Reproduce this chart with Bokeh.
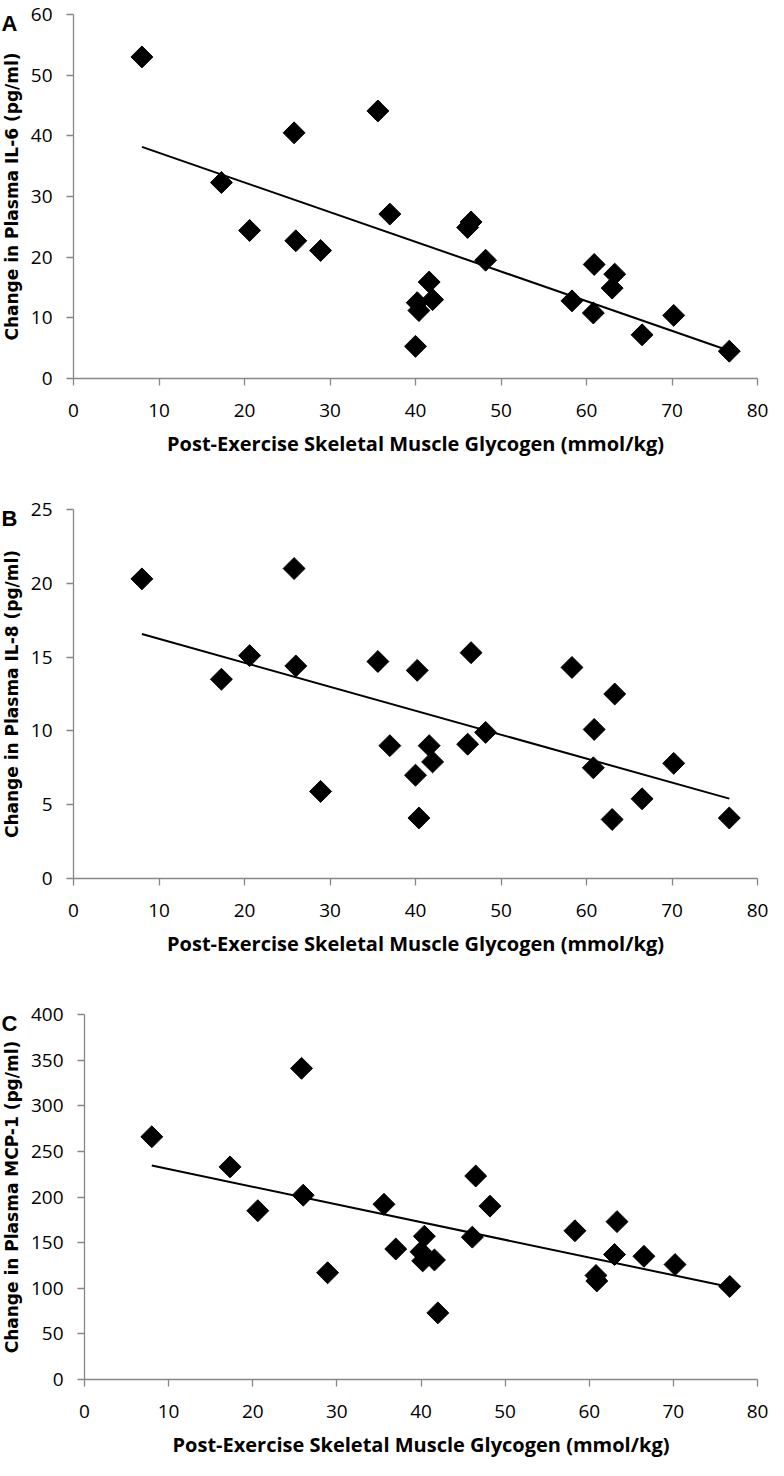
import math
import numpy as np
from bokeh.plotting import figure
from bokeh.layouts import column, row
from bokeh.models import Range1d, FixedTicker
from bokeh.core.properties import value
from bokeh.embed import file_html
from bokeh.resources import INLINE

# ---- data ----
glycogen = [8.0, 17.3, 20.6, 25.8, 26.0, 28.9, 35.6, 37.0, 40.0, 40.2, 40.4, 41.6,
            42.0, 46.1, 46.5, 48.2, 58.3, 60.8, 60.9, 63.0, 63.3, 66.5, 70.2, 76.7]
il6 = [53.0, 32.3, 24.4, 40.5, 22.7, 21.1, 44.1, 27.1, 5.3, 12.5, 11.2, 15.9,
       13.0, 24.9, 25.8, 19.5, 12.8, 10.8, 18.8, 14.9, 17.2, 7.2, 10.4, 4.5]
il8 = [20.3, 13.5, 15.1, 21.0, 14.4, 5.9, 14.7, 9.0, 7.0, 14.1, 4.1, 9.0,
       7.9, 9.1, 15.3, 9.9, 14.3, 7.5, 10.1, 4.0, 12.5, 5.4, 7.8, 4.1]
mcp1 = [266, 233, 185, 341, 202, 117, 192, 143, 140, 130, 157, 131,
        73, 156, 223, 190, 163, 114, 108, 137, 173, 135, 126, 102]

x_ticks = [0, 10, 20, 30, 40, 50, 60, 70, 80]
x_title = "Post-Exercise Skeletal Muscle Glycogen (mmol/kg)"
letters = ["A", "B", "C"]
y_titles = ["Change in Plasma IL-6 (pg/ml)", "Change in Plasma IL-8 (pg/ml)",
            "Change in Plasma MCP-1 (pg/ml)"]
y_max = [60, 25, 400]
y_step = [10, 5, 50]
series = [il6, il8, mcp1]

# ---- layout (pixels) ----
STRIP = 24          # left strip holding panel letter + y title
MAIN_W = 744
RIGHT = 11
panels = [
    dict(h=482, top=14, bottom=104, left=49),
    dict(h=500, top=27, bottom=104, left=49),
    dict(h=478, top=32, bottom=77, left=60),
]
AXIS_GRAY = "#878787"
TICK_FONT = "Open Sans"


def make_strip(i):
    # In a row, this strip's plot frame lines up with the panel's frame,
    # so its y range is expressed in pixels of that frame.
    g = panels[i]
    h = g["h"]
    fh = h - g["top"] - g["bottom"]
    s = figure(width=STRIP, height=h, output_backend="svg", toolbar_location=None,
               x_range=Range1d(0, STRIP), y_range=Range1d(0, fh),
               x_axis_location=None, y_axis_location=None,
               min_border_left=0, min_border_right=0,
               min_border_top=g["top"], min_border_bottom=g["bottom"],
               outline_line_color=None, background_fill_color="white",
               border_fill_color="white")
    s.grid.visible = False
    s.text(x=[9], y=[fh - 9], text=[letters[i]],
           text_font=value("Liberation Sans"), text_font_style="bold",
           text_font_size="22px", text_color="black",
           text_align="center", text_baseline="middle")
    s.text(x=[11], y=[fh / 2], text=[y_titles[i]], angle=math.pi / 2,
           text_font=value("DejaVu Sans"), text_font_style="bold",
           text_font_size="17px", text_color="black",
           text_align="center", text_baseline="middle")
    return s


def make_panel(i):
    g = panels[i]
    ymax = y_max[i]
    yvals = series[i]
    p = figure(width=MAIN_W, height=g["h"], output_backend="svg", toolbar_location=None,
               x_range=Range1d(0, 80), y_range=Range1d(0, ymax),
               min_border_left=g["left"], min_border_right=RIGHT,
               min_border_top=g["top"], min_border_bottom=g["bottom"],
               outline_line_color=None, background_fill_color="white",
               border_fill_color="white")
    p.grid.visible = False
    p.xaxis.ticker = FixedTicker(ticks=x_ticks)
    p.yaxis.ticker = FixedTicker(ticks=list(range(0, ymax + 1, y_step[i])))
    for ax in (p.xaxis[0], p.yaxis[0]):
        ax.axis_line_color = AXIS_GRAY
        ax.axis_line_width = 1.3
        ax.major_tick_line_color = AXIS_GRAY
        ax.major_tick_line_width = 1.3
        ax.minor_tick_line_color = None
        ax.major_tick_in = 0
        ax.major_tick_out = 7
        ax.major_label_text_font = TICK_FONT
        ax.major_label_text_font_size = "19px"
        ax.major_label_text_color = "black"
    p.yaxis.major_label_standoff = 14
    p.xaxis.major_label_standoff = 18
    p.xaxis.axis_label = x_title
    p.xaxis.axis_label_text_font = "Open Sans"
    p.xaxis.axis_label_text_font_style = "bold"
    p.xaxis.axis_label_text_font_size = "20px"
    p.xaxis.axis_label_text_color = "black"
    p.xaxis.axis_label_standoff = 10

    # trend line (least-squares fit of the series)
    coef = np.polyfit(glycogen, yvals, 1)
    xs = [min(glycogen), max(glycogen)]
    p.line(xs, list(np.polyval(coef, xs)), line_color="black", line_width=2)

    p.scatter(glycogen, yvals, marker="square", angle=math.pi / 4, size=15.5,
              fill_color="black", line_color="black")
    return p


layout = column(*[row(make_strip(i), make_panel(i)) for i in range(3)])
open("out.html", "w").write(file_html(layout, INLINE))
